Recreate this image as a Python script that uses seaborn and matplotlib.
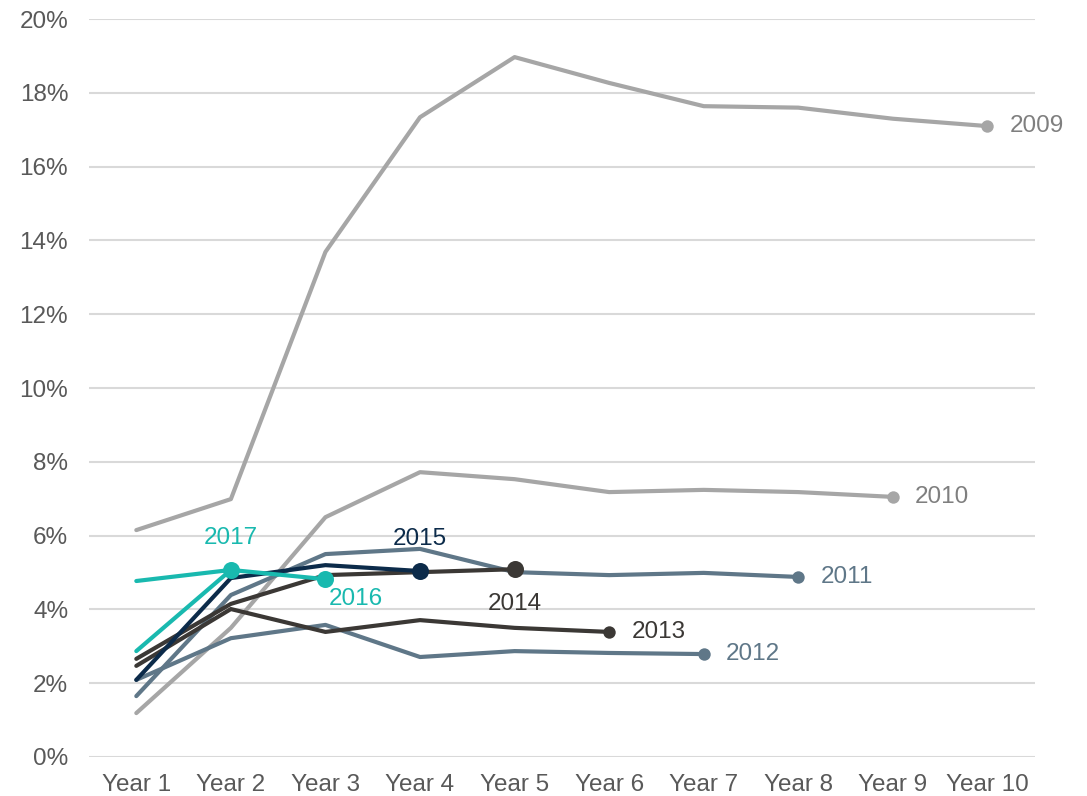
import matplotlib

matplotlib.use("Agg")

import matplotlib.pyplot as plt
import pandas as pd
import seaborn as sns

years = ["Year 1", "Year 2", "Year 3", "Year 4", "Year 5",
         "Year 6", "Year 7", "Year 8", "Year 9", "Year 10"]

# cumulative rate (%) per cohort
c2009 = [6.15, 6.99, 13.69, 17.34, 18.97, 18.27, 17.64, 17.60, 17.30, 17.10]
c2010 = [1.19, 3.50, 6.50, 7.72, 7.53, 7.18, 7.24, 7.18, 7.05]
c2011 = [1.65, 4.39, 5.50, 5.64, 5.01, 4.93, 4.99, 4.88]
c2012 = [2.09, 3.22, 3.58, 2.71, 2.87, 2.82, 2.79]
c2013 = [2.47, 4.01, 3.39, 3.71, 3.50, 3.39]
c2014 = [2.66, 4.15, 4.93, 5.01, 5.09]
c2015 = [2.09, 4.85, 5.20, 5.04]
c2016 = [2.87, 5.07, 4.82]
c2017 = [4.77, 5.07]

cohorts = {"2009": c2009, "2010": c2010, "2011": c2011, "2012": c2012,
           "2013": c2013, "2014": c2014, "2015": c2015, "2016": c2016,
           "2017": c2017}

colors = {"2009": "#a6a6a6", "2010": "#a6a6a6",
          "2011": "#5f7788", "2012": "#5f7788",
          "2013": "#3b3835", "2014": "#3b3835",
          "2015": "#0c2b4a",
          "2016": "#19b9af", "2017": "#19b9af"}

rows = []
for name, vals in cohorts.items():
    for i, v in enumerate(vals):
        rows.append({"cohort": name, "pos": i, "value": v / 100})
df = pd.DataFrame(rows)

sns.set_theme(style="white")
plt.rcParams["font.family"] = ["Liberation Sans", "DejaVu Sans"]

fig = plt.figure(figsize=(10.87, 7.96), dpi=100)
ax = fig.add_axes([0.0819, 0.049, 0.870, 0.927])

sns.lineplot(data=df, x="pos", y="value", hue="cohort", palette=colors,
             linewidth=3, legend=False, ax=ax, zorder=3)

# end-point dots; the four youngest cohorts get bigger ones
big = {"2014", "2015", "2016", "2017"}
ends = df.groupby("cohort").tail(1)
for _, r in ends.iterrows():
    size = 150 if r["cohort"] in big else 80
    ax.scatter(r["pos"], r["value"], s=size, color=colors[r["cohort"]],
               zorder=4, linewidths=0)

# label placement (offset in points: dx, dy, ha, va)
label_pos = {"2009": (16, 0, "left", "center"),
             "2010": (16, 0, "left", "center"),
             "2011": (16, 0, "left", "center"),
             "2012": (16, 0, "left", "center"),
             "2013": (16, 0, "left", "center"),
             "2014": (0, -25, "center", "center"),
             "2015": (0, 23, "center", "center"),
             "2016": (22, -14, "center", "center"),
             "2017": (0, 23, "center", "center")}
for _, r in ends.iterrows():
    dx, dy, ha, va = label_pos[r["cohort"]]
    col = "#7f7f7f" if r["cohort"] in ("2009", "2010") else colors[r["cohort"]]
    ax.annotate(r["cohort"], (r["pos"], r["value"]), xytext=(dx, dy),
                textcoords="offset points", ha=ha, va=va, fontsize=17.5,
                color=col)

ax.set_xlim(-0.5, 9.5)
ax.set_ylim(0, 0.20)
ax.set_yticks([i / 100 for i in range(0, 21, 2)])
ax.set_yticklabels([f"{i}%" for i in range(0, 21, 2)])
ax.set_xticks(range(len(years)))
ax.set_xticklabels(years)
ax.tick_params(axis="both", labelsize=17.5, colors="#595959", length=0)
ax.tick_params(axis="y", pad=15)
ax.tick_params(axis="x", pad=12)
ax.grid(axis="y", color="#d9d9d9", linewidth=1.5, zorder=0)
ax.set_axisbelow(True)
ax.set_xlabel("")
ax.set_ylabel("")
for side in ax.spines.values():
    side.set_visible(False)

fig.savefig("out.png", dpi=100)
